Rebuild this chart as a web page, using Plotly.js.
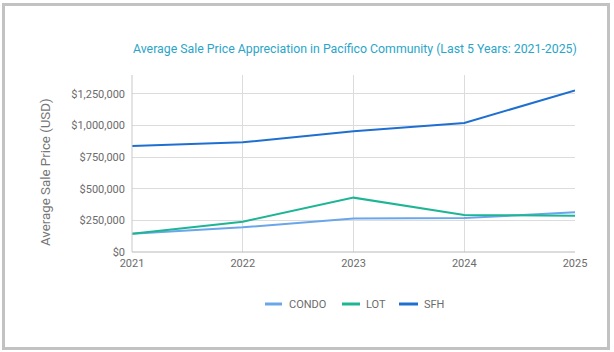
<!DOCTYPE html>
<html>
<head>
<meta charset="utf-8">
<script src="https://cdn.plot.ly/plotly-3.0.1.min.js"></script>
<style>
html,body{margin:0;padding:0;background:#fff;}
#wrap{position:relative;width:614px;height:352px;}
#chart{position:absolute;left:0;top:0;width:614px;height:352px;}
#frame{position:absolute;left:2px;top:3px;width:602px;height:341px;border:3px solid #c2c2c2;pointer-events:none;}
</style>
</head>
<body>
<div id="wrap"><div id="chart"></div><div id="frame"></div></div>
<script>
const years = ['2021', '2022', '2023', '2024', '2025'];
const seriesNames = ['CONDO', 'LOT', 'SFH'];
const condo = [145000, 195000, 265000, 268000, 315000];
const lot = [145000, 240000, 430000, 292000, 287000];
const sfh = [838000, 868000, 955000, 1020000, 1278000];
const yTickVals = [0, 250000, 500000, 750000, 1000000, 1250000];
const yTickText = ['$0', '$250,000', '$500,000', '$750,000', '$1,000,000', '$1,250,000'];

const colors = ['#6aa6e9', '#1db594', '#1f6fd1'];
const font = 'Roboto, "Open Sans", sans-serif';
const seriesData = [condo, lot, sfh];
const traces = seriesNames.map((n, i) => ({
  name: n, x: years, y: seriesData[i], type: 'scatter', mode: 'lines',
  line: {color: colors[i], width: 2}, showlegend: false
}));

// plot area geometry (pixels) for custom legend placement
const L = 132, W = 443, T = 75, H = 177;
const px = v => (v - L) / W;
const py = v => (T + H - v) / H;
const legendLines = [[265, 282], [342, 360], [399, 418]];
const legendTextX = [287, 364, 422];
const legendY = 304;

const shapes = [
  {type: 'line', xref: 'paper', yref: 'paper', x0: 0, x1: 1, y0: 0, y1: 0, line: {color: '#b8b8b8', width: 1}},
  {type: 'line', xref: 'paper', yref: 'paper', x0: 0, x1: 0, y0: 0, y1: 1, line: {color: '#c8c8c8', width: 1}}
];
const annotations = [];
seriesNames.forEach((n, i) => {
  shapes.push({type: 'line', xref: 'paper', yref: 'paper', x0: px(legendLines[i][0]), x1: px(legendLines[i][1]),
               y0: py(legendY), y1: py(legendY), line: {color: colors[i], width: 3}});
  annotations.push({xref: 'paper', yref: 'paper', x: px(legendTextX[i]), y: py(legendY), xanchor: 'left', yanchor: 'middle',
                    text: n, showarrow: false, font: {size: 11, color: '#6b6b6b'}});
});
annotations.push({xref: 'paper', yref: 'paper', x: px(45), y: py(172), xanchor: 'center', yanchor: 'middle',
                  text: 'Average Sale Price (USD)', textangle: -90, showarrow: false, font: {size: 13.3, color: '#777777'}});

const layout = {
  width: 614, height: 352,
  margin: {l: L, r: 614 - L - W, t: T, b: 352 - T - H},
  paper_bgcolor: '#ffffff', plot_bgcolor: '#ffffff',
  font: {family: font, color: '#6b6b6b', size: 11},
  title: {text: 'Average Sale Price Appreciation in Pacífico Community (Last 5 Years: 2021-2025)',
          font: {family: font, size: 12.3, color: '#2aa5c9'}, x: 0.578, xanchor: 'center', y: 0.862, yanchor: 'middle'},
  xaxis: {
    type: 'category', range: [0, 4], showgrid: true, gridcolor: '#dcdcdc', gridwidth: 1,
    showline: false, zeroline: false, ticks: '', tickfont: {size: 11, color: '#6b6b6b'}, ticklabelstandoff: 3
  },
  yaxis: {
    range: [0, 1400000], tickvals: yTickVals, ticktext: yTickText,
    showgrid: true, gridcolor: '#dcdcdc', zeroline: false, showline: false, ticks: '',
    tickfont: {size: 11, color: '#6b6b6b'}, ticklabelstandoff: 6
  },
  shapes: shapes,
  annotations: annotations,
  showlegend: false,
  hovermode: false
};
Plotly.newPlot('chart', traces, layout, {displayModeBar: false, staticPlot: true});
</script>
</body>
</html>
